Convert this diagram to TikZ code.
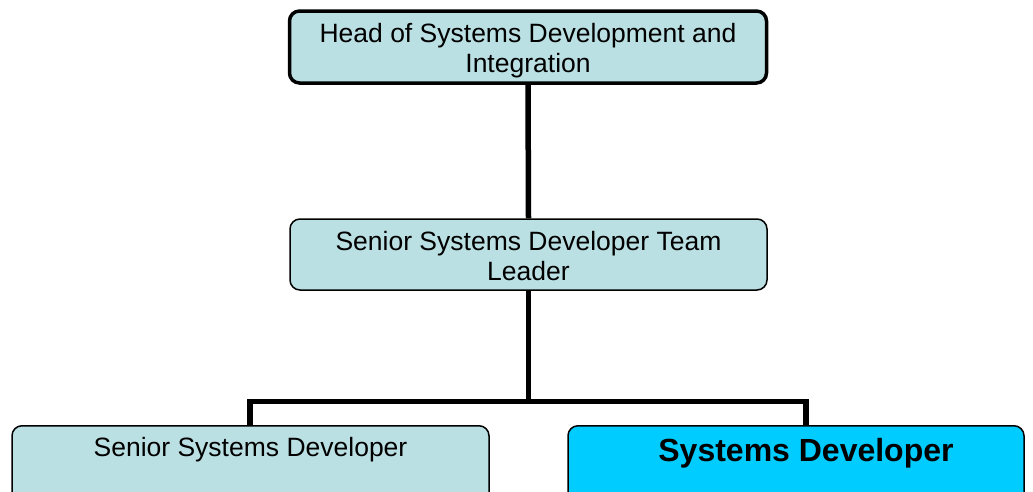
\documentclass[tikz,border=0pt]{standalone}
\usepackage{fontspec}
\setmainfont{Liberation Sans}
\begin{document}
\begin{tikzpicture}[x=1pt,y=-1pt,
  lightbox/.style={draw=black, fill=boxcyan, rounded corners=10pt, line width=1.5pt, inner sep=0pt},
  heavybox/.style={lightbox, line width=3.5pt},
  brightbox/.style={lightbox, fill=brightcyan},
  label txt/.style={font=\fontsize{26.5}{30}\selectfont, align=center, inner sep=0pt},
  bold txt/.style={font=\fontsize{32}{36}\selectfont\bfseries, align=center, inner sep=0pt},
  conn/.style={line width=5.5pt, draw=black}]
\definecolor{boxcyan}{HTML}{BBE0E3}
\definecolor{brightcyan}{HTML}{00CCFF}
\useasboundingbox (0,0) rectangle (1033,491);
\clip (0,0) rectangle (1033,491);
% boxes
\node[heavybox, minimum width=477pt, minimum height=72pt] (head) at (528,47) {};
\node[label txt] (headt) at (528,50.5) {Head of Systems Development and\\Integration};
\node[lightbox, minimum width=477pt, minimum height=71pt] (lead) at (528.5,254.5) {};
\node[label txt] (leadt) at (528.5,256) {Senior Systems Developer Team\\Leader};
\node[lightbox, minimum width=477pt, minimum height=110pt, anchor=north] (ssd) at (250.5,425) {};
\node[label txt] (ssdt) at (250.5,450) {Senior Systems Developer};
\node[brightbox, minimum width=456pt, minimum height=110pt, anchor=north] (sd) at (796,425) {};
\node[bold txt] (sdt) at (806,453.5) {Systems Developer};
% connectors
\coordinate (j) at (528.5,401.5);
\coordinate (jl) at (250,401.5);
\coordinate (jr) at (806,401.5);
\draw[conn] (head.south) -- (lead.north);
\draw[conn] (lead.south) -- (j);
\draw[conn, line cap=rect] (jl) -- (jr);
\draw[conn] (jl) -- (jl |- ssd.north);
\draw[conn] (jr) -- (jr |- sd.north);
\end{tikzpicture}
\end{document}
